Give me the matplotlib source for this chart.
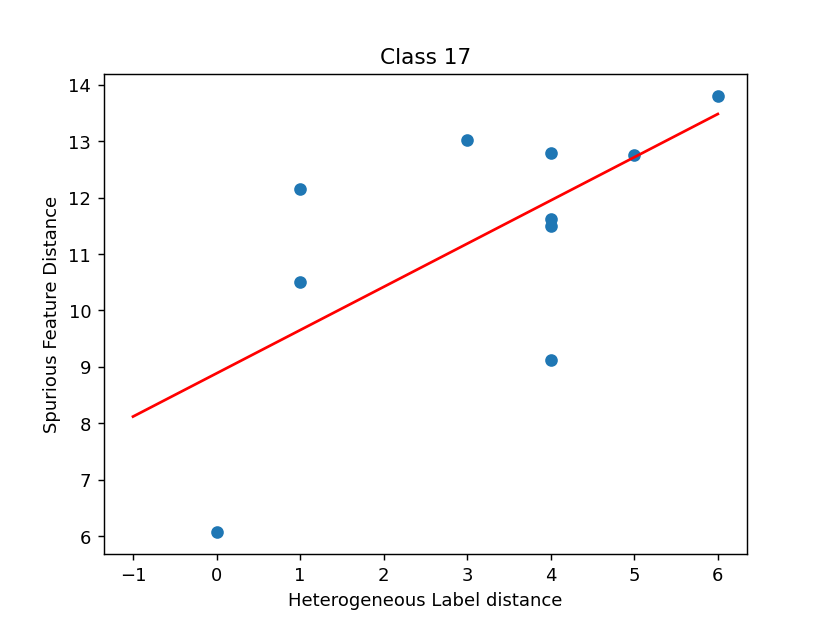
import matplotlib
matplotlib.use('Agg')
import matplotlib.pyplot as plt
import numpy as np

label_dist = np.array([0, 1, 1, 3, 4, 4, 4, 4, 5, 6])
feature_dist = np.array([6.08, 12.15, 10.5, 13.02, 12.79, 11.62, 11.5, 9.12, 12.76, 13.8])

# fitted line endpoints
fit_x = np.array([-1, 6])
fit_y = np.array([8.12, 13.48])

fig, ax = plt.subplots(figsize=(6.4, 4.8), dpi=129.7)

ax.scatter(label_dist, feature_dist)
ax.plot(fit_x, fit_y, color='red')

ax.set_title('Class 17')
ax.set_xlabel('Heterogeneous Label distance')
ax.set_ylabel('Spurious Feature Distance')

fig.savefig('out.png')
